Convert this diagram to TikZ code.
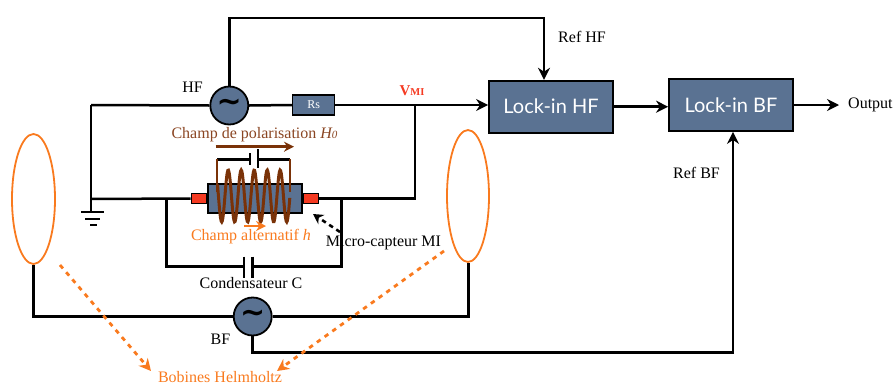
\documentclass[tikz,border=0pt]{standalone}
\usepackage{fontspec}
\setmainfont{Liberation Serif}
\newfontfamily\lockfont{Lato}
\newfontfamily\tildefont{DejaVu Sans}
\usetikzlibrary{arrows.meta,shapes.geometric}
\definecolor{boxblue}{HTML}{5A7292}
\definecolor{coilbrown}{HTML}{7A3208}
\definecolor{polbrown}{HTML}{8A4522}
\definecolor{orng}{HTML}{F97A1E}
\definecolor{redp}{HTML}{F53A22}
\tikzset{
  wire/.style={line width=2.5pt,black},
  arr/.style={wire,-{Stealth[length=12pt,width=12pt]}},
  lockbox/.style={draw=black,line width=1.8pt,fill=boxblue,text=white,minimum width=124pt,minimum height=52pt,inner sep=0pt,font=\lockfont\fontsize{20}{22}\selectfont},
  src/.style={circle,draw=black,line width=1.8pt,fill=boxblue,minimum size=38pt,inner sep=0pt},
  lbl/.style={inner sep=0pt,font=\fontsize{16}{18}\selectfont},
  tilde/.style={font=\tildefont\bfseries\fontsize{30}{30}\selectfont,inner sep=0pt},
  coilwire/.style={line width=3pt,coilbrown},
  coilthin/.style={line width=1.8pt,coilbrown},
  dashor/.style={line width=2.8pt,orng,dash pattern=on 4.5pt off 5pt,-{Stealth[length=12pt,width=12pt]}},
  helm/.style={ellipse,draw=orng,line width=1.8pt,inner sep=0pt},
  redtip/.style={draw=black,line width=1.5pt,fill=redp,inner sep=0pt,minimum width=15pt,minimum height=10pt},
}
\begin{document}
\begin{tikzpicture}[x=1pt,y=-1pt]
\useasboundingbox (0,0) rectangle (894,386);
% nodes
\node[src] (hf) at (229.3,105.5) {};
\node[draw=black,line width=1.5pt,fill=boxblue,text=white,minimum width=42pt,minimum height=20pt,inner sep=0pt,font=\fontsize{12}{13}\selectfont] (rs) at (313.7,105) {Rs};
\node[lockbox] (lhf) at (551,106.7) {Lock-in HF};
\node[lockbox] (lbf) at (731,105) {Lock-in BF};
\node[src] (bf) at (252.7,316.5) {};
\node[helm,minimum width=43pt,minimum height=130pt] (cl) at (33.5,199) {};
\node[helm,minimum width=42pt,minimum height=132pt] (cr) at (468,196) {};
\node[draw=black,line width=1.8pt,fill=boxblue,minimum width=94pt,minimum height=29pt,inner sep=0pt] (mi) at (255,198.5) {};
\node[redtip,anchor=east] (tl) at (mi.west) {};
\node[redtip,anchor=west] (tr) at (mi.east) {};
% coordinates
\coordinate (gl) at (91,105);
\coordinate (gb) at (91,199);
\coordinate (g0) at (91,212);
\coordinate (tj) at (415,105);
\coordinate (rb) at (415,198.5);
\coordinate (top1) at (229.3,18);
\coordinate (top2) at (544,18);
\coordinate (il) at (166.7,199);
\coordinate (ilb) at (166.7,266.7);
\coordinate (ir) at (341.7,198.5);
\coordinate (irb) at (341.7,266.7);
\coordinate (c1) at (244,266.7);
\coordinate (c2) at (252.7,266.7);
\coordinate (bl) at (33,316.5);
\coordinate (br) at (468.3,316.5);
\coordinate (bfd) at (252.7,352.5);
\coordinate (bfr) at (733,352.5);
\coordinate (out) at (839,105);
\coordinate (ca) at (217,159.3);
\coordinate (cb) at (250,159.3);
\coordinate (cc) at (258,159.3);
\coordinate (cd) at (290,159.3);
% wires
\draw[wire] (gl) -- (hf.west);
\draw[wire] (hf.east) -- (rs.west);
\draw[arr] (rs.east) -- (lhf.west |- rs.east);
\draw[wire] (gl) -- (g0);
\draw[wire] (gb) -- (tl.west);
\draw[wire] (tj) -- (rb) -- (tr.east);
\draw[arr] (hf.north) -- (top1) -- (top2) -- (top2 |- lhf.north);
\draw[arr] (lhf.east) -- (lbf.west |- lhf.east);
\draw[arr] (lbf.east) -- (out);
\draw[wire] (il) -- (ilb) -- (c1);
\draw[wire] (ir) -- (irb) -- (c2);
\draw[wire] (244,256.7) -- (244,278);
\draw[wire] (252.7,256.7) -- (252.7,278);
\draw[wire] (cl.south) -- (cl.south |- bl) -- (bf.west);
\draw[wire] (bf.east) -- (br) -- (br |- cr.south);
\draw[arr] (bf.south) -- (bfd) -- (bfr) -- (bfr |- lbf.south);
% ground
\draw[wire] (81,212) -- (104,212);
\draw[wire] (85,219) -- (100,219);
\draw[wire] (90,225) -- (97,225);
% sensor bias
\draw[wire] (ca) -- (cb);
\draw[wire] (cc) -- (cd);
\draw[wire] (250,153) -- (250,165);
\draw[wire] (258,149) -- (258,168);
\draw[coilthin] (ca) -- (217,192);
\draw[coilthin] (cd) -- (290,192);
\draw[coilwire,domain=217.5:289.8,samples=120,smooth] plot (\x,{196+26*cos((\x-221.7)/13*360)});
% field arrows
\draw[line width=2.5pt,coilbrown,-{Stealth[length=10pt,width=10pt]}] (215.7,146.7) -- (294,146.7);
\draw[line width=2.5pt,orng,-{Stealth[length=10pt,width=10pt]}] (244,226) -- (266,226);
% labels
\node[lbl] (lhfl) at (192.5,87) {HF};
\node[lbl] (lbfl) at (220.5,339) {BF};
\node[lbl,text=polbrown] (lpol) at (254.5,135) {Champ de polarisation \textit{H\fontsize{11}{11}\selectfont 0}};
\node[lbl,text=orng] (lalt) at (251,237) {Champ alternatif \textit{h}};
\node[lbl] (lmic) at (383.5,243) {Micro-capteur MI};
\node[lbl] (lcon) at (251,283.5) {Condensateur C};
\node[lbl] (lrhf) at (582,36.5) {Ref HF};
\node[lbl] (lrbf) at (696.5,172.5) {Ref BF};
\node[lbl,anchor=west] (lout) at (848,105) {Output};
\node[inner sep=0pt,text=redp,font=\bfseries\fontsize{15}{16}\selectfont] (lvmi) at (412,91) {V\fontsize{10.5}{12}\selectfont MI};
\node[lbl,text=orng,anchor=base] (lboh) at (220,382.5) {Bobines Helmholtz};
\node[tilde] (th) at (hf.center) {\char`\~};
\node[tilde] (tb) at (bf.center) {\char`\~};
% dashed
\coordinate (da1) at (340,232);
\coordinate (da2) at (313,214);
\draw[line width=2.5pt,dash pattern=on 4.5pt off 4pt,-{Stealth[length=10pt,width=11pt]}] (da1) -- (da2);
\coordinate (o1) at (60,265);
\coordinate (o2) at (151,371);
\coordinate (o3) at (444,251);
\coordinate (o4) at (277,371);
\draw[dashor] (o1) -- (o2);
\draw[dashor] (o3) -- (o4);
\end{tikzpicture}
\end{document}
